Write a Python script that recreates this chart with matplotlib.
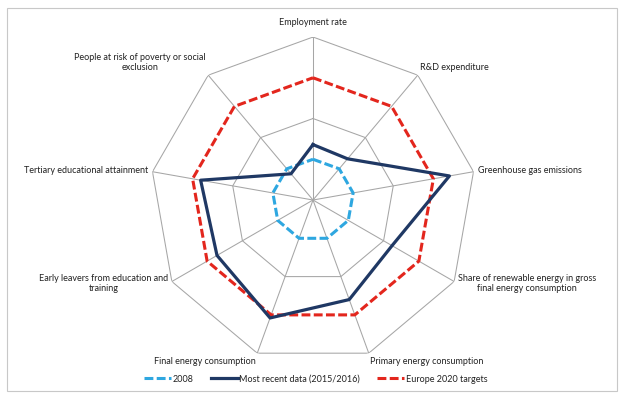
import numpy as np
import matplotlib
matplotlib.use('Agg')
import matplotlib.pyplot as plt
from matplotlib.patches import Rectangle
from matplotlib.lines import Line2D

plt.rcParams['font.family'] = ['Lato', 'DejaVu Sans']

# data --------------------------------------------------------------------
labels = ['Employment rate',
          'R&D expenditure',
          'Greenhouse gas emissions',
          'Share of renewable energy in gross\nfinal energy consumption',
          'Primary energy consumption',
          'Final energy consumption',
          'Early leavers from education and\ntraining',
          'Tertiary educational attainment',
          'People at risk of poverty or social\nexclusion']
vals_2008 = [0.5, 0.5, 0.5, 0.5, 0.5, 0.5, 0.5, 0.5, 0.5]
vals_recent = [0.68, 0.66, 1.70, 1.12, 1.30, 1.54, 1.36, 1.40, 0.42]
vals_target = [1.5, 1.5, 1.5, 1.5, 1.5, 1.5, 1.5, 1.5, 1.5]
rings = [1, 2]
series_names = ['2008', 'Most recent data (2015/2016)', 'Europe 2020 targets']

# ------------------------------------------------------------------------
n = len(labels)
ang = np.linspace(0, 2 * np.pi, n, endpoint=False)
ang_c = np.append(ang, ang[0])

def close(v):
    return list(v) + [v[0]]

fig = plt.figure(figsize=(6.24, 3.99), dpi=100)
ax = fig.add_axes([0.2404, 0.0902, 0.5224, 0.817], projection='polar')
ax.set_theta_zero_location('N')
ax.set_theta_direction(-1)
ax.set_ylim(0, max(rings))
ax.axis('off')

grid_c = '#a6a6a6'
for r in rings:
    ax.plot(ang_c, [r] * (n + 1), color=grid_c, lw=0.75, zorder=1)
for a in ang:
    ax.plot([a, a], [0, max(rings)], color=grid_c, lw=0.75, zorder=1)

c_2008 = '#2ea7e0'
c_recent = '#1f3864'
c_target = '#e3261d'

ax.plot(ang_c, close(vals_2008), color=c_2008, lw=2.2, dashes=(2.9, 1.1), zorder=3)
ax.plot(ang_c, close(vals_recent), color=c_recent, lw=2.3, zorder=4)
ax.plot(ang_c, close(vals_target), color=c_target, lw=2.2, dashes=(2.9, 1.1), zorder=3)

# axis labels
for a, lab in zip(ang, labels):
    s, c = np.sin(a), np.cos(a)
    ha = 'left' if s > 0.1 else ('right' if s < -0.1 else 'center')
    va = 'bottom' if c > 0.6 else ('top' if c < -0.6 else 'center')
    off = 7 if abs(s) < 0.1 else 3
    ax.annotate(lab, xy=(a, max(rings)), xytext=(s * off, c * off),
                textcoords='offset points', ha=ha, va=va,
                multialignment='center', fontsize=6.5, color='#222222')

# legend
handles = [Line2D([], [], color=c_2008, lw=2.2, dashes=(2.9, 1.1)),
           Line2D([], [], color=c_recent, lw=2.3),
           Line2D([], [], color=c_target, lw=2.2, dashes=(2.9, 1.1))]
fig.legend(handles, series_names, loc='center', bbox_to_anchor=(0.506, 0.05),
           ncol=3, frameon=False, fontsize=6.5, handlelength=3.0,
           handletextpad=0.15, columnspacing=1.9, labelcolor='#222222')

fig.add_artist(Rectangle((7 / 624, 8 / 399), 610 / 624, 383 / 399,
                         transform=fig.transFigure, fill=False,
                         ec='#c8c8c8', lw=0.8))

fig.savefig('out.png', dpi=100)
